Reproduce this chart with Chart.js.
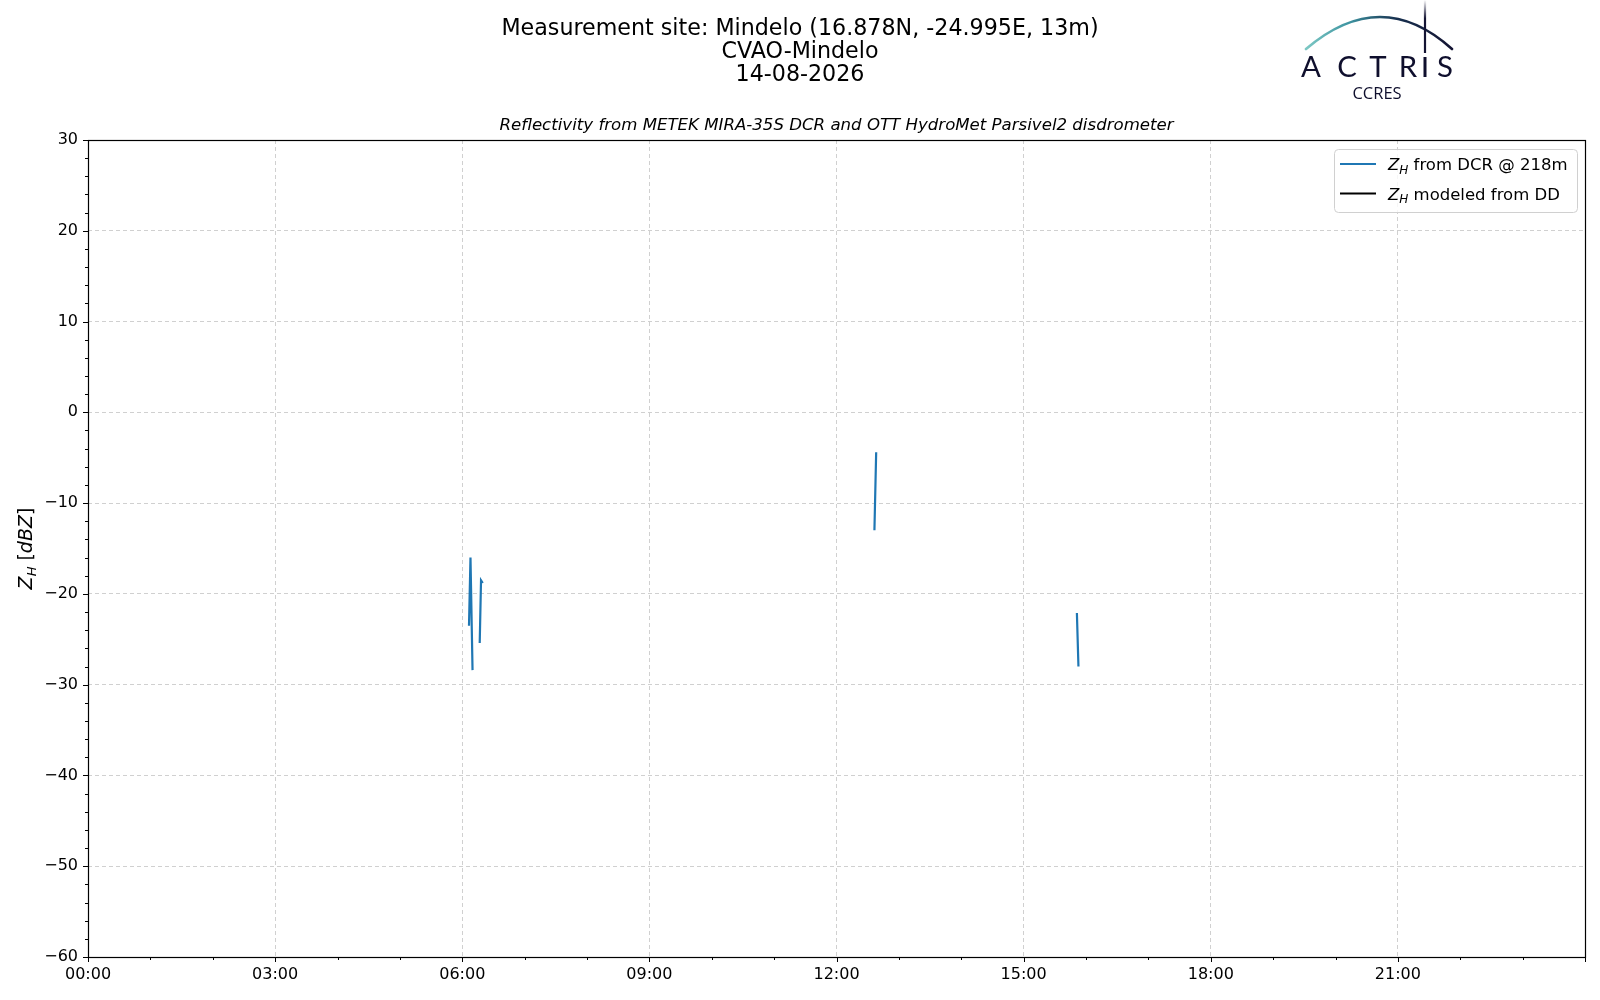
<!DOCTYPE html>
<html>
<head>
<meta charset="utf-8">
<script src="https://cdn.jsdelivr.net/npm/chart.js@4.4.1/dist/chart.umd.min.js"></script>
<style>
  html, body { margin: 0; padding: 0; background: #ffffff; }
  #wrap { width: 1600px; height: 1000px; position: relative; }
  canvas { display: block; }
</style>
</head>
<body>
<div id="wrap"><canvas id="c" width="1600" height="1000"></canvas></div>
<script>
// ---------------- DATA ----------------
// time in decimal hours (UTC) ; null values break the line between rain events
const dcrTimes  = [6.108, 6.132, 6.165, 6.22, 6.280, 6.301, 6.329, 9.5, 12.608, 12.636, 14.0, 15.854, 15.879];
const dcrValues = [-23.5, -16.0, -28.4, null, -25.4, -18.5, -18.8, null, -13.0, -4.4, null, -22.1, -28.0];
const ddTimes   = [];
const ddValues  = [];
const xTickHours = [0, 3, 6, 9, 12, 15, 18, 21];
const yTickValues = [-60, -50, -40, -30, -20, -10, 0, 10, 20, 30];
const titleLines = ['Measurement site: Mindelo (16.878N, -24.995E, 13m)', 'CVAO-Mindelo', '14-08-2026'];
const subTitle = 'Reflectivity from METEK MIRA-35S DCR and OTT HydroMet Parsivel2 disdrometer';
const legendLabels = [' from DCR @ 218m', ' modeled from DD'];
const seriesColors = ['#1f77b4', '#000000'];

const FONT = '"DejaVu Sans", sans-serif';

function toPoints(xs, ys) { return xs.map((x, i) => ({ x: x, y: ys[i] })); }
function hh(v) { const h = Math.round(v); return (h < 10 ? '0' : '') + h + ':00'; }

// draw "Z_H" (italic, subscript H) then a suffix, returns end x
function drawZH(ctx, x, y, size, suffixParts) {
  ctx.textBaseline = 'alphabetic';
  ctx.textAlign = 'left';
  ctx.font = 'italic ' + size + 'px ' + FONT;
  ctx.fillText('Z', x, y);
  x += ctx.measureText('Z').width;
  const sub = Math.round(size * 0.7);
  ctx.font = 'italic ' + sub + 'px ' + FONT;
  ctx.fillText('H', x, y + size * 0.22);
  x += ctx.measureText('H').width;
  (suffixParts || []).forEach(p => {
    ctx.font = (p.italic ? 'italic ' : '') + size + 'px ' + FONT;
    ctx.fillText(p.t, x, y);
    x += ctx.measureText(p.t).width;
  });
  return x;
}
function measureZH(ctx, size, suffixParts) {
  ctx.font = 'italic ' + size + 'px ' + FONT;
  let w = ctx.measureText('Z').width;
  ctx.font = 'italic ' + Math.round(size * 0.7) + 'px ' + FONT;
  w += ctx.measureText('H').width;
  (suffixParts || []).forEach(p => {
    ctx.font = (p.italic ? 'italic ' : '') + size + 'px ' + FONT;
    w += ctx.measureText(p.t).width;
  });
  return w;
}

const decor = {
  id: 'decor',
  afterDraw(chart) {
    const ctx = chart.ctx;
    const a = chart.chartArea;
    const xs = chart.scales.x, ys = chart.scales.y;
    ctx.save();
    // frame
    ctx.strokeStyle = '#000'; ctx.lineWidth = 1.2;
    ctx.strokeRect(Math.round(a.left) + 0.5, Math.round(a.top) + 0.5, Math.round(a.right - a.left), Math.round(a.bottom - a.top));
    // x ticks (major + hourly minor)
    ctx.lineWidth = 1;
    ctx.beginPath();
    for (let h = 0; h <= 24; h++) {
      const px = Math.round(xs.getPixelForValue(h)) + 0.5;
      const len = (h % 3 === 0) ? 5 : 3;
      ctx.moveTo(px, a.bottom); ctx.lineTo(px, a.bottom + len);
    }
    // y ticks (major every 10, minor every 2)
    for (let v = -60; v <= 30; v += 2) {
      const py = Math.round(ys.getPixelForValue(v)) + 0.5;
      const len = (v % 10 === 0) ? 5 : 3;
      ctx.moveTo(a.left, py); ctx.lineTo(a.left - len, py);
    }
    ctx.stroke();

    // titles
    ctx.fillStyle = '#000';
    ctx.textAlign = 'center'; ctx.textBaseline = 'middle';
    ctx.font = '22.2px ' + FONT;
    titleLines.forEach((t, i) => ctx.fillText(t, 800, 29 + i * 23));
    ctx.font = 'italic 16.6px ' + FONT;
    ctx.fillText(subTitle, (a.left + a.right) / 2, 126);

    // y axis title
    ctx.save();
    ctx.translate(25, (a.top + a.bottom) / 2);
    ctx.rotate(-Math.PI / 2);
    const parts = [{ t: ' [' }, { t: 'dBZ', italic: true }, { t: ']' }];
    const w = measureZH(ctx, 19, parts);
    ctx.fillStyle = '#000';
    drawZH(ctx, -w / 2, 7, 19, parts);
    ctx.restore();

    // legend
    const lx = 1334, ly = 149, lw = 243, lh = 63;
    ctx.save();
    ctx.beginPath();
    ctx.roundRect(lx + 0.5, ly + 0.5, lw, lh, 4);
    ctx.fillStyle = 'rgba(255,255,255,0.8)'; ctx.fill();
    ctx.strokeStyle = '#d0d0d0'; ctx.lineWidth = 1; ctx.stroke();
    chart.data.datasets.forEach((ds, i) => {
      const yy = 164 + i * 29.5;
      ctx.beginPath(); ctx.strokeStyle = ds.borderColor; ctx.lineWidth = 2;
      ctx.moveTo(1340, yy); ctx.lineTo(1376, yy); ctx.stroke();
      ctx.fillStyle = '#000';
      drawZH(ctx, 1388, yy + 6, 16.5, [{ t: legendLabels[i] }]);
    });
    ctx.restore();

    // logo
    ctx.save();
    const g = ctx.createLinearGradient(1306, 0, 1452, 0);
    g.addColorStop(0, '#7cc8c4'); g.addColorStop(0.3, '#3d93a0');
    g.addColorStop(0.62, '#17304f'); g.addColorStop(1, '#141433');
    ctx.strokeStyle = g; ctx.lineWidth = 2.6; ctx.lineCap = 'round';
    ctx.beginPath(); ctx.moveTo(1306, 49); ctx.quadraticCurveTo(1381, -15, 1452, 49); ctx.stroke();
    const gv = ctx.createLinearGradient(0, 0, 0, 53);
    gv.addColorStop(0, 'rgba(20,20,51,0)'); gv.addColorStop(0.35, '#141433'); gv.addColorStop(1, '#141433');
    ctx.strokeStyle = gv; ctx.lineWidth = 2.2; ctx.lineCap = 'butt';
    ctx.beginPath(); ctx.moveTo(1425, 0); ctx.lineTo(1425, 53); ctx.stroke();
    ctx.fillStyle = '#0f0f2d';
    ctx.font = '28px Lato, "Open Sans", sans-serif';
    ctx.textAlign = 'center'; ctx.textBaseline = 'alphabetic';
    const letters = ['A', 'C', 'T', 'R', 'S'];
    const centers = [1311, 1347, 1378, 1408, 1445];
    letters.forEach((L, i) => {
      ctx.save();
      ctx.translate(centers[i], 77);
      ctx.scale(1.05, 1);
      ctx.fillText(L, 0, 0);
      ctx.restore();
    });
    ctx.fillRect(1423.5, 57, 3, 20);
    ctx.font = '16.5px "Open Sans", sans-serif';
    ctx.fillText('CCRES', 1377, 99);
    ctx.restore();

    ctx.restore();
  }
};

const chart = new Chart(document.getElementById('c'), {
  type: 'scatter',
  data: {
    datasets: [
      { label: 'DCR', data: toPoints(dcrTimes, dcrValues), showLine: true, spanGaps: false,
        borderColor: seriesColors[0], backgroundColor: seriesColors[0], borderWidth: 2.2, pointRadius: 0, tension: 0 },
      { label: 'DD', data: toPoints(ddTimes, ddValues), showLine: true,
        borderColor: seriesColors[1], backgroundColor: seriesColors[1], borderWidth: 2, pointRadius: 0 }
    ]
  },
  options: {
    responsive: false, animation: false, devicePixelRatio: 1,
    layout: { padding: { left: 0, right: 15, top: 140, bottom: 0 } },
    plugins: { legend: { display: false }, title: { display: false }, tooltip: { enabled: false } },
    scales: {
      x: {
        type: 'linear', min: 0, max: 24,
        afterBuildTicks: s => { s.ticks = xTickHours.map(v => ({ value: v })); },
        afterFit: s => { s.height = 43; },
        grid: { color: '#d0d0d0', lineWidth: 1, drawTicks: false },
        border: { display: false, dash: [4, 3] },
        ticks: { padding: 8, color: '#000', font: { family: FONT, size: 16 }, maxRotation: 0, autoSkip: false,
                 callback: v => hh(v) }
      },
      y: {
        type: 'linear', min: -60, max: 30,
        afterBuildTicks: s => { s.ticks = yTickValues.map(v => ({ value: v })); },
        afterFit: s => { s.width = 88; },
        grid: { color: '#d0d0d0', lineWidth: 1, drawTicks: false },
        border: { display: false, dash: [4, 3] },
        ticks: { padding: 10, color: '#000', font: { family: FONT, size: 16 },
                 callback: v => String(v).replace('-', '\u2212') }
      }
    }
  },
  plugins: [decor]
});
</script>
</body>
</html>
